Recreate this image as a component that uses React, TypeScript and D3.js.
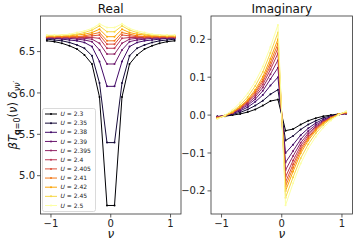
import React from "react";
import * as d3 from "d3";

const NU = [-1.068, -0.942, -0.817, -0.691, -0.565, -0.440, -0.314, -0.188, -0.063,
  0.063, 0.188, 0.314, 0.440, 0.565, 0.691, 0.817, 0.942, 1.068];

const U_LABELS = ["2.3", "2.35", "2.38", "2.39", "2.395", "2.4", "2.405", "2.41", "2.42", "2.45", "2.5"];

const REAL = [
  [6.63, 6.62, 6.60, 6.57, 6.53, 6.46, 6.35, 5.95, 4.64, 4.64, 5.95, 6.35, 6.46, 6.53, 6.57, 6.60, 6.62, 6.63],
  [6.65, 6.64, 6.63, 6.61, 6.58, 6.54, 6.45, 6.12, 5.40, 5.40, 6.12, 6.45, 6.54, 6.58, 6.61, 6.63, 6.64, 6.65],
  [6.66, 6.66, 6.65, 6.64, 6.63, 6.61, 6.56, 6.38, 6.08, 6.08, 6.38, 6.56, 6.61, 6.63, 6.64, 6.65, 6.66, 6.66],
  [6.67, 6.66, 6.66, 6.66, 6.65, 6.64, 6.62, 6.52, 6.35, 6.35, 6.52, 6.62, 6.64, 6.65, 6.66, 6.66, 6.66, 6.67],
  [6.67, 6.67, 6.67, 6.67, 6.66, 6.66, 6.65, 6.60, 6.47, 6.47, 6.60, 6.65, 6.66, 6.66, 6.67, 6.67, 6.67, 6.67],
  [6.67, 6.67, 6.67, 6.67, 6.67, 6.67, 6.67, 6.66, 6.54, 6.54, 6.66, 6.67, 6.67, 6.67, 6.67, 6.67, 6.67, 6.67],
  [6.68, 6.68, 6.68, 6.68, 6.68, 6.68, 6.69, 6.70, 6.59, 6.59, 6.70, 6.69, 6.68, 6.68, 6.68, 6.68, 6.68, 6.68],
  [6.68, 6.68, 6.68, 6.68, 6.68, 6.69, 6.71, 6.73, 6.63, 6.63, 6.73, 6.71, 6.69, 6.68, 6.68, 6.68, 6.68, 6.68],
  [6.69, 6.69, 6.69, 6.69, 6.70, 6.71, 6.73, 6.77, 6.68, 6.68, 6.77, 6.73, 6.71, 6.70, 6.69, 6.69, 6.69, 6.69],
  [6.69, 6.69, 6.70, 6.70, 6.71, 6.73, 6.76, 6.81, 6.74, 6.74, 6.81, 6.76, 6.73, 6.71, 6.70, 6.70, 6.69, 6.69],
  [6.70, 6.70, 6.70, 6.71, 6.73, 6.75, 6.78, 6.835, 6.79, 6.79, 6.835, 6.78, 6.75, 6.73, 6.71, 6.70, 6.70, 6.70],
];

const IMAG = [
  [-0.004, -0.003, 0.000, 0.003, 0.008, 0.015, 0.025, 0.037, 0.041, -0.041, -0.037, -0.025, -0.015, -0.008, -0.003, 0.000, 0.003, 0.004],
  [-0.004, -0.002, 0.002, 0.007, 0.015, 0.025, 0.038, 0.055, 0.067, -0.067, -0.055, -0.038, -0.025, -0.015, -0.007, -0.002, 0.002, 0.004],
  [-0.004, -0.001, 0.004, 0.011, 0.021, 0.035, 0.053, 0.078, 0.100, -0.100, -0.078, -0.053, -0.035, -0.021, -0.011, -0.004, 0.001, 0.004],
  [-0.005, -0.001, 0.005, 0.014, 0.026, 0.042, 0.064, 0.095, 0.125, -0.125, -0.095, -0.064, -0.042, -0.026, -0.014, -0.005, 0.001, 0.005],
  [-0.005, -0.001, 0.006, 0.016, 0.030, 0.048, 0.073, 0.108, 0.145, -0.145, -0.108, -0.073, -0.048, -0.030, -0.016, -0.006, 0.001, 0.005],
  [-0.006, -0.001, 0.007, 0.018, 0.033, 0.053, 0.081, 0.120, 0.163, -0.163, -0.120, -0.081, -0.053, -0.033, -0.018, -0.007, 0.001, 0.006],
  [-0.007, -0.002, 0.007, 0.019, 0.036, 0.058, 0.088, 0.130, 0.177, -0.177, -0.130, -0.088, -0.058, -0.036, -0.019, -0.007, 0.002, 0.007],
  [-0.007, -0.002, 0.007, 0.020, 0.038, 0.062, 0.094, 0.139, 0.188, -0.188, -0.139, -0.094, -0.062, -0.038, -0.020, -0.007, 0.002, 0.007],
  [-0.008, -0.002, 0.008, 0.022, 0.041, 0.067, 0.101, 0.149, 0.200, -0.200, -0.149, -0.101, -0.067, -0.041, -0.022, -0.008, 0.002, 0.008],
  [-0.009, -0.002, 0.010, 0.026, 0.048, 0.077, 0.114, 0.164, 0.218, -0.218, -0.164, -0.114, -0.077, -0.048, -0.026, -0.010, 0.002, 0.009],
  [-0.010, 0.000, 0.014, 0.033, 0.057, 0.088, 0.128, 0.180, 0.238, -0.238, -0.180, -0.128, -0.088, -0.057, -0.033, -0.014, 0.000, 0.010],
];

const X_TICKS = [-1, 0, 1];
const REAL_Y_TICKS = [5.0, 5.5, 6.0, 6.5];
const IMAG_Y_TICKS = [-0.2, -0.1, 0.0, 0.1, 0.2];

const W = 357;
const H = 246;
const TOP = 16;
const BOTTOM = 214;
const FONT = "DejaVu Sans, sans-serif";

const colorOf = (i: number) => d3.interpolateInferno(i / (U_LABELS.length - 1));
const fmtMinus = (s: string) => s.replace("-", "\u2212");

type PanelProps = {
  left: number;
  right: number;
  yDomain: [number, number];
  data: number[][];
  yTicks: number[];
  yFmt: (v: number) => string;
  title: string;
  legend?: boolean;
};

function Panel({ left, right, yDomain, data, yTicks, yFmt, title, legend }: PanelProps) {
  const x = d3.scaleLinear().domain([-1.175, 1.175]).range([left, right]);
  const y = d3.scaleLinear().domain(yDomain).range([BOTTOM, TOP]);
  const line = d3
    .line<number>()
    .x((_, i) => x(NU[i]))
    .y((d) => y(d));
  const cx = (left + right) / 2;
  return (
    <g>
      <g>
        {data.map((row, si) => (
          <g key={si}>
            <path d={line(row) || ""} fill="none" stroke={colorOf(si)} strokeWidth={1} />
            {row.map((v, i) => (
              <circle key={i} cx={x(NU[i])} cy={y(v)} r={1} fill={colorOf(si)} />
            ))}
          </g>
        ))}
      </g>
      <rect x={left} y={TOP} width={right - left} height={BOTTOM - TOP} fill="none" stroke="#333" strokeWidth={0.8} />
      {X_TICKS.map((t) => (
        <g key={t}>
          <line x1={x(t)} x2={x(t)} y1={BOTTOM} y2={BOTTOM + 3.5} stroke="#333" strokeWidth={0.8} />
          <text x={x(t)} y={BOTTOM + 12.5} fontSize={10} textAnchor="middle" fontFamily={FONT} fill="#222">
            {fmtMinus(String(t))}
          </text>
        </g>
      ))}
      {yTicks.map((t) => (
        <g key={t}>
          <line x1={left - 3.5} x2={left} y1={y(t)} y2={y(t)} stroke="#333" strokeWidth={0.8} />
          <text x={left - 5.5} y={y(t) + 3.6} fontSize={10} textAnchor="end" fontFamily={FONT} fill="#222">
            {fmtMinus(yFmt(t))}
          </text>
        </g>
      ))}
      <text x={cx} y={12.5} fontSize={12} textAnchor="middle" fontFamily={FONT} fill="#111">
        {title}
      </text>
      <text x={cx} y={238} fontSize={12} textAnchor="middle" fontFamily={FONT} fontStyle="italic" fill="#111">
        ν
      </text>
      {legend && (
        <g>
          <rect x={42.5} y={108.5} width={53} height={103} rx={2} fill="white" fillOpacity={0.8} stroke="#d0d0d0" strokeWidth={0.8} />
          {U_LABELS.map((u, i) => {
            const ly = 114 + i * 9.15;
            return (
              <g key={u}>
                <line x1={45} x2={57} y1={ly} y2={ly} stroke={colorOf(i)} strokeWidth={1} />
                <circle cx={51} cy={ly} r={1} fill={colorOf(i)} />
                <text x={60.5} y={ly + 2.1} fontSize={6} fontFamily={FONT} fill="#222">
                  <tspan fontStyle="italic">U</tspan>
                  <tspan> = {u}</tspan>
                </text>
              </g>
            );
          })}
        </g>
      )}
    </g>
  );
}

export default function App() {
  return (
    <svg width={W} height={H} style={{ position: "absolute", left: 0, top: 0, background: "white" }}>
      <rect width={W} height={H} fill="white" />
      <Panel
        left={40.5}
        right={181}
        yDomain={[4.537, 6.93]}
        data={REAL}
        yTicks={REAL_Y_TICKS}
        yFmt={(v) => v.toFixed(1)}
        title="Real"
        legend
      />
      <Panel
        left={211}
        right={352.5}
        yDomain={[-0.261, 0.2615]}
        data={IMAG}
        yTicks={IMAG_Y_TICKS}
        yFmt={(v) => v.toFixed(1)}
        title="Imaginary"
      />
      <text transform="translate(17,115) rotate(-90)" fontSize={11.5} textAnchor="middle" fontFamily={FONT} fill="#111">
        <tspan fontStyle="italic">βT</tspan>
        <tspan fontSize={8} fontWeight="bold" dy={3}>q</tspan>
        <tspan fontSize={8}>=0</tspan>
        <tspan dy={-3}>(</tspan>
        <tspan fontStyle="italic">ν</tspan>
        <tspan>) </tspan>
        <tspan fontStyle="italic">δ</tspan>
        <tspan fontSize={8} fontStyle="italic" dy={3}>νν′</tspan>
      </text>
    </svg>
  );
}
